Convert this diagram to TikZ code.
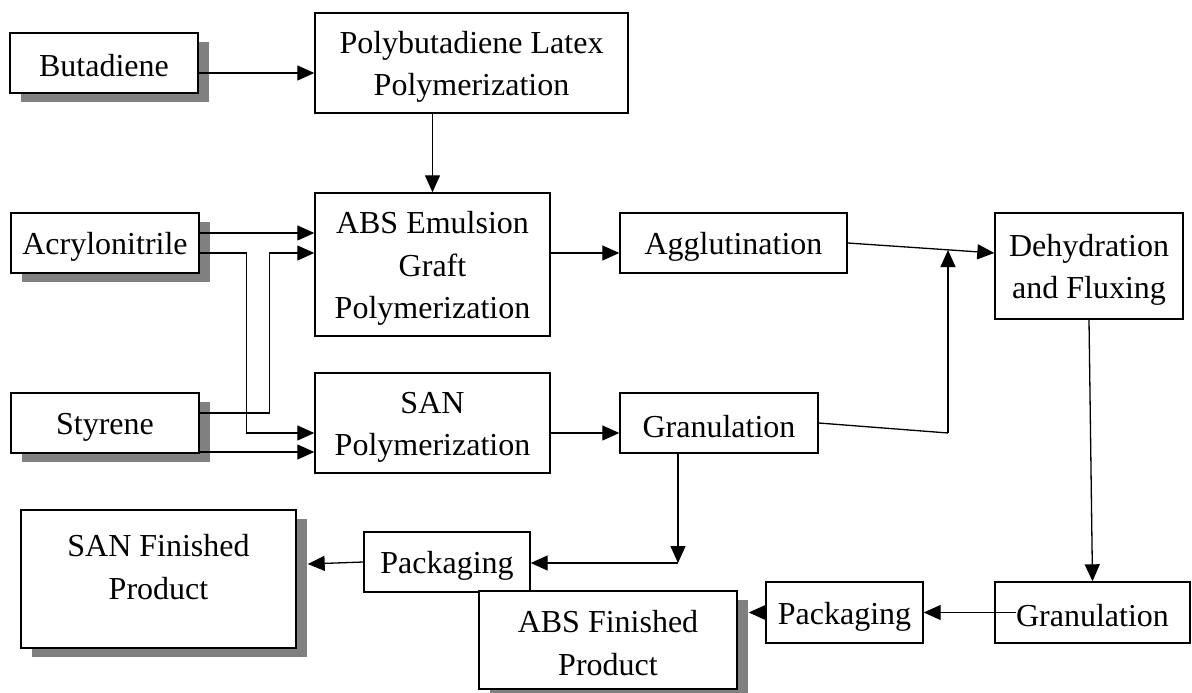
\documentclass[tikz,border=0pt]{standalone}
\usepackage{fontspec}
\setmainfont{Liberation Serif}
\usetikzlibrary{arrows.meta,shadows,calc}

% line strut: keeps every text line at the same height/depth
\newcommand{\ls}{\rule[-2pt]{0pt}{32pt}}
% deeper strut for a last line that sits high in its box
\newcommand{\lsdeep}{\rule[-32pt]{0pt}{62pt}}

\tikzset{
  box/.style={draw=black, line width=1.4pt, fill=white, inner sep=0pt, align=center,
              font=\fontsize{32}{42.5}\selectfont},
  shbox/.style={box, drop shadow={shadow xshift=11pt, shadow yshift=-9pt,
              fill=black!50, opacity=1}},
  arr/.style={line width=1.3pt, -{Triangle[length=17pt,width=15pt]}},
  ln/.style={line width=1.3pt}
}

\begin{document}
\begin{tikzpicture}[x=1pt,y=-1pt]
\useasboundingbox (0,0) rectangle (1192,693);

% raw materials
\node[shbox, minimum width=188pt, minimum height=60pt] (but) at (104,63) {\ls Butadiene};
\node[shbox, minimum width=188pt, minimum height=60pt] (acr) at (105,243) {\ls Acrylonitrile};
\node[shbox, minimum width=188pt, minimum height=60pt] (sty) at (105,423) {\ls Styrene};

% polymerization stages
\node[box, minimum width=313pt, minimum height=100pt] (pbl) at (471.5,63) {\ls Polybutadiene Latex\\\ls Polymerization};
\node[box, minimum width=235pt, minimum height=143pt] (abs) at (432.5,264.5) {\ls ABS Emulsion\\\ls Graft\\\ls Polymerization};
\node[box, minimum width=235pt, minimum height=100pt] (san) at (432.5,423) {\ls SAN\\\ls Polymerization};

% processing
\node[box, minimum width=227pt, minimum height=60pt] (agg) at (733.5,243) {\ls Agglutination};
\node[box, minimum width=198pt, minimum height=60pt] (gr1) at (719,423) {\ls Granulation};
\node[box, minimum width=188pt, minimum height=106pt] (deh) at (1089,266) {\ls Dehydration\\\ls and Fluxing};
\node[box, minimum width=195pt, minimum height=61pt] (gr2) at (1092.5,612.5) {\ls Granulation};
\node[box, minimum width=157pt, minimum height=61pt] (pk2) at (844.5,612.5) {\ls Packaging};
\node[box, minimum width=166pt, minimum height=60pt] (pk1) at (447,562) {\ls Packaging};

% finished products
\node[shbox, minimum width=275pt, minimum height=138pt] (sfp) at (158.5,579) {\ls SAN Finished\\\lsdeep Product};
\node[shbox, minimum width=258pt, minimum height=98pt] (afp) at (608,640) {\ls ABS Finished\\\ls Product};

% junction points
\coordinate (jn) at (948,433);
\coordinate (jt) at (948,250);
\coordinate (gd) at (678,563);

% feed lines
\draw[arr] ([yshift=-10pt]but.east) -- ([yshift=-10pt]pbl.west);
\draw[arr] (pbl.south -| abs.north) -- (abs.north);
\draw[arr] ([yshift=10pt]acr.east) -- ([yshift=10pt]acr.east -| abs.west);
\draw[arr] ([yshift=-10pt]acr.east) -- ++(47pt,0) |- ([yshift=-10pt]san.west);
\draw[arr] ([yshift=10pt]sty.east) -- ++(70pt,0) |- ([yshift=11.5pt]abs.west);
\draw[arr] ([yshift=-29pt]sty.east) -- ([yshift=-29pt]sty.east -| san.west);

% main process flow
\draw[arr] ([yshift=11.5pt]abs.east) -- ([yshift=11.5pt]abs.east -| agg.west);
\draw[arr] ([yshift=-10pt]san.east) -- ([yshift=-10pt]san.east -| gr1.west);
\draw[arr] (agg.east) -- ([yshift=13pt]deh.west);
\draw[ln] (gr1.east) -- (jn);
\draw[arr] (jn) -- (jt);
\draw[arr] (deh.south) -- (gr2.north);
\draw[arr] ([xshift=22pt]gr2.west) -- (pk2.east);
\draw[arr] (pk2.west) -- ($(pk2.west -| afp.east)+(11pt,0)$);

% SAN packaging branch
\draw[arr] (gr1.south -| gd) -- (gd);
\draw[arr] (gd) -- (gd -| pk1.east);
\draw[arr] (pk1.west) -- ($(pk1.west -| sfp.east)+(11pt,-2pt)$);
\end{tikzpicture}
\end{document}
